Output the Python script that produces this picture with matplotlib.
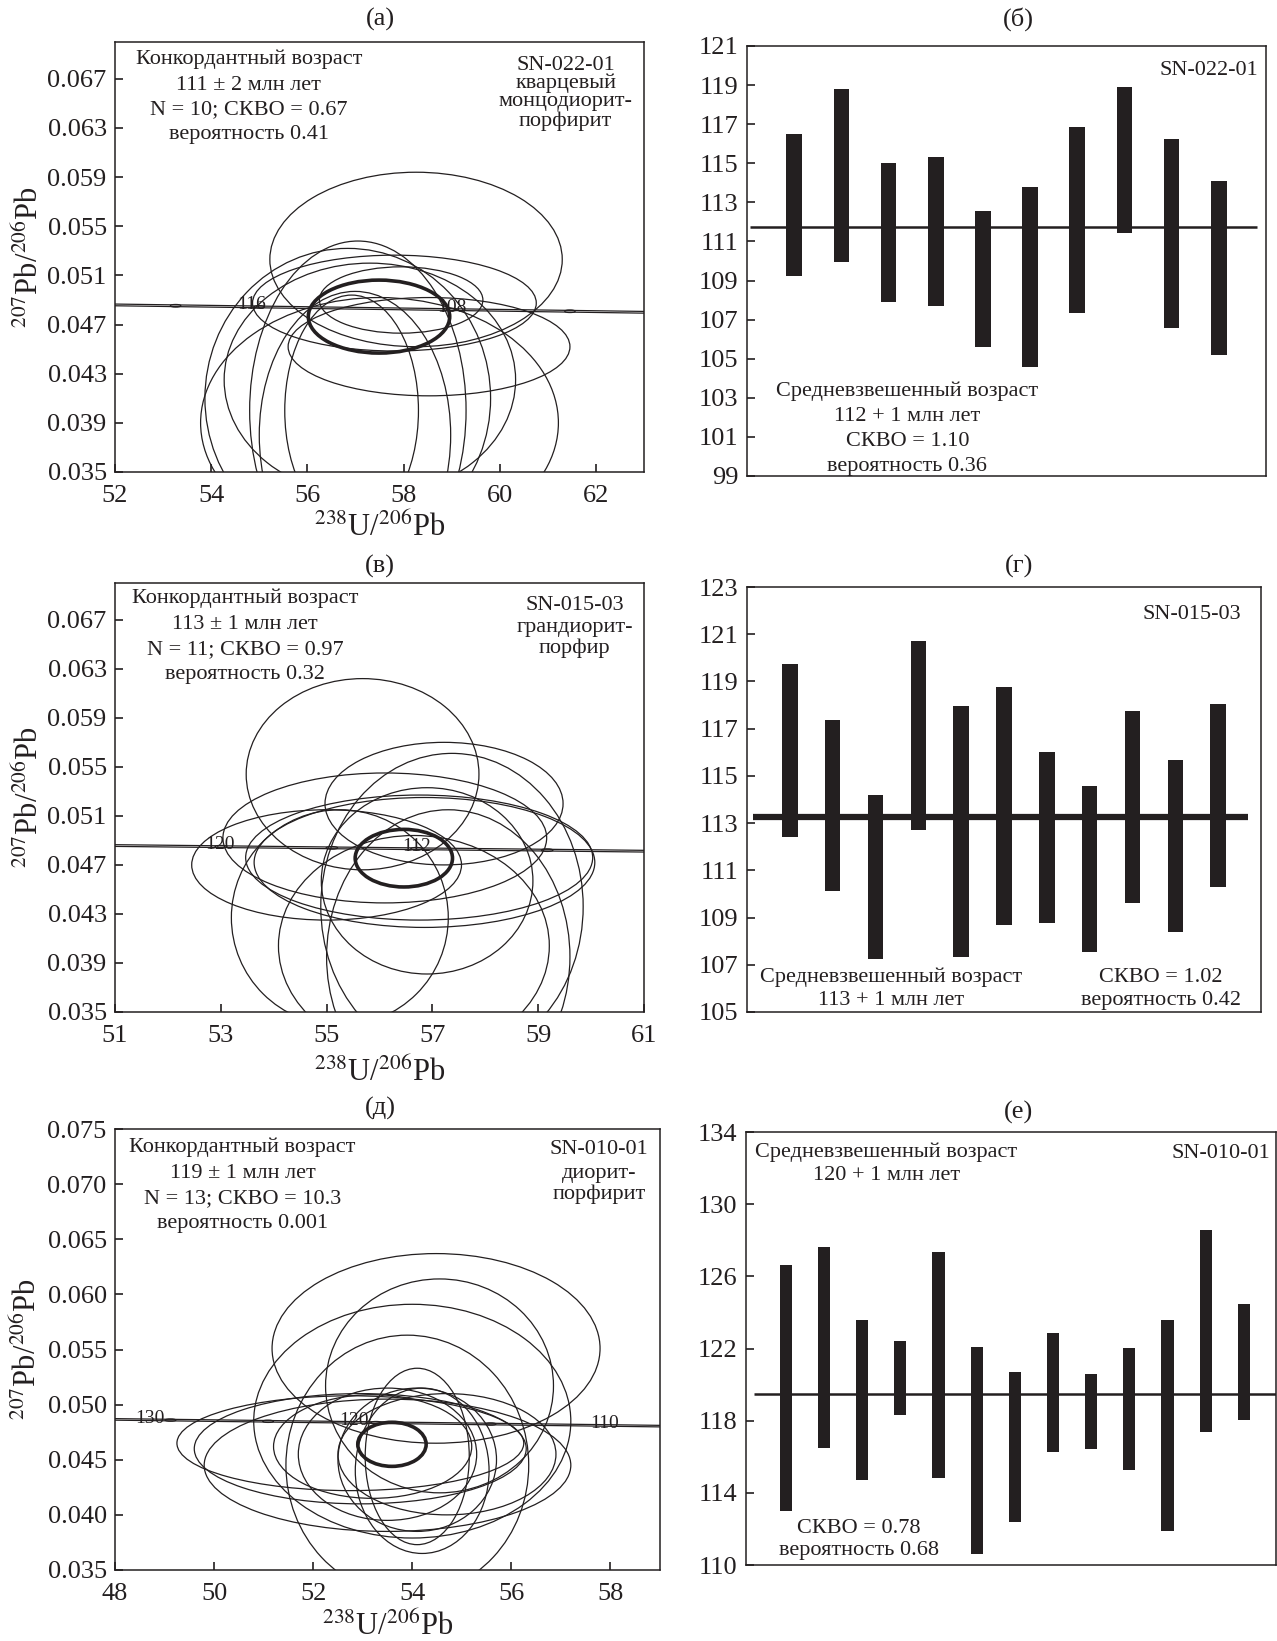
import matplotlib
matplotlib.use("Agg")
import numpy as np
import matplotlib.pyplot as plt
from matplotlib.patches import Ellipse

plt.rcParams["font.family"] = ["Liberation Serif", "DejaVu Serif"]
plt.rcParams["mathtext.fontset"] = "stix"

INK = "#231f20"

# ---------------- (а) SN-022-01, concordia ----------------
A_XLIM = (52, 63)
A_YLIM = (0.035, 0.070)
A_XTICKS = [52, 54, 56, 58, 60, 62]
A_YTICKS = [0.035, 0.039, 0.043, 0.047, 0.051, 0.055, 0.059, 0.063, 0.067]
A_ELL_X = [58.26, 57.81, 58.53, 57.95, 57.50, 56.84, 57.05, 56.99, 56.92, 57.30]
A_ELL_Y = [0.0523, 0.04875, 0.0452, 0.0490, 0.0390, 0.0410, 0.0400, 0.0380, 0.0400, 0.0425]
A_ELL_A = [3.04, 2.95, 2.93, 1.70, 3.72, 2.97, 2.25, 1.99, 1.39, 3.03]
A_ELL_B = [0.0071, 0.0039, 0.0040, 0.0027, 0.0102, 0.0122, 0.0138, 0.0117, 0.0094, 0.0095]
A_AGE = (57.49, 0.04765, 1.47, 0.00297)
A_CONC_X = [52, 63]
A_CONC_Y = [0.04860, 0.04800]
A_MARK_X = [53.26, 55.0, 59.0, 61.46]
A_AGE_LABELS = ["116", "108"]
A_AGE_LABEL_X = [54.84, 59.0]
A_LEFT_TEXT = ["Конкордантный возраст", "111 ± 2 млн лет",
               "N = 10; СКВО = 0.67", "вероятность 0.41"]
A_RIGHT_TEXT = ["SN-022-01", "кварцевый", "монцодиорит-", "порфирит"]

# ---------------- (в) SN-015-03, concordia ----------------
V_XLIM = (51, 61)
V_YLIM = (0.035, 0.070)
V_XTICKS = [51, 53, 55, 57, 59, 61]
V_YTICKS = A_YTICKS
V_ELL_X = [55.68, 57.22, 55.00, 56.10, 56.75, 56.85, 55.25, 56.65, 57.37, 56.90, 57.30]
V_ELL_Y = [0.0544, 0.0520, 0.0470, 0.0492, 0.0476, 0.0472, 0.0427, 0.0404, 0.0436, 0.0457, 0.0395]
V_ELL_A = [2.20, 2.25, 2.55, 3.06, 3.28, 3.22, 2.05, 2.56, 2.48, 2.00, 2.30]
V_ELL_B = [0.0078, 0.0050, 0.0045, 0.0053, 0.0051, 0.0053, 0.0088, 0.0090, 0.0125, 0.0076, 0.0120]
V_AGE = (56.46, 0.04755, 0.92, 0.00235)
V_CONC_X = [51, 61]
V_CONC_Y = [0.04858, 0.04812]
V_MARK_X = [53.0, 55.1, 56.7, 59.17]
V_AGE_LABELS = ["120", "112"]
V_AGE_LABEL_X = [52.98, 56.7]
V_LEFT_TEXT = ["Конкордантный возраст", "113 ± 1 млн лет",
               "N = 11; СКВО = 0.97", "вероятность 0.32"]
V_RIGHT_TEXT = ["SN-015-03", "грандиорит-", "порфир"]

# ---------------- (д) SN-010-01, concordia ----------------
D_XLIM = (48, 59)
D_YLIM = (0.035, 0.075)
D_XTICKS = [48, 50, 52, 54, 56, 58]
D_YTICKS = [0.035, 0.040, 0.045, 0.050, 0.055, 0.060, 0.065, 0.070, 0.075]
D_ELL_X = [54.48, 54.55, 54.00, 52.75, 52.95, 53.50, 53.90, 54.10, 54.10, 53.50, 54.70, 53.20, 54.20]
D_ELL_Y = [0.0551, 0.0517, 0.0485, 0.0465, 0.0460, 0.0445, 0.0445, 0.0453, 0.0450, 0.0455, 0.0455, 0.0462, 0.0440]
D_ELL_A = [3.31, 2.30, 3.20, 3.50, 3.35, 3.70, 2.45, 1.05, 1.60, 1.80, 2.20, 2.00, 1.35]
D_ELL_B = [0.0086, 0.0097, 0.0106, 0.0043, 0.0050, 0.0060, 0.0118, 0.0080, 0.0065, 0.0060, 0.0055, 0.0047, 0.0075]
D_AGE = (53.59, 0.0464, 0.69, 0.0020)
D_CONC_X = [48, 59]
D_CONC_Y = [0.04866, 0.04805]
D_MARK_X = [49.12, 51.09, 53.27, 55.58]
D_AGE_LABELS = ["130", "120", "110"]
D_AGE_LABEL_X = [48.7, 52.83, 57.88]
D_LEFT_TEXT = ["Конкордантный возраст", "119 ± 1 млн лет",
               "N = 13; СКВО = 10.3", "вероятность 0.001"]
D_RIGHT_TEXT = ["SN-010-01", "диорит-", "порфирит"]

# ---------------- (б) weighted mean SN-022-01 ----------------
B_TOP = [116.52, 118.80, 115.00, 115.34, 112.56, 113.79, 116.86, 118.90, 116.23, 114.10]
B_BOT = [109.22, 109.96, 107.89, 107.68, 105.60, 104.56, 107.34, 111.44, 106.57, 105.20]
B_MEAN = 111.74
B_SPAN = (0.06, 10.8)
B_YLIM = (99, 121)
B_YTICKS = list(range(99, 122, 2))

# ---------------- (г) weighted mean SN-015-03 ----------------
G_TOP = [119.73, 117.38, 114.18, 120.70, 117.98, 118.76, 116.03, 114.56, 117.74, 115.67, 118.06]
G_BOT = [112.41, 110.12, 107.23, 112.70, 107.35, 108.67, 108.79, 107.53, 109.60, 108.40, 110.28]
G_MEAN = 113.27
G_SPAN = (0.13, 11.7)
G_YLIM = (105, 123)
G_YTICKS = list(range(105, 124, 2))

# ---------------- (е) weighted mean SN-010-01 ----------------
E_TOP = [126.61, 127.63, 123.56, 122.39, 127.36, 122.10, 120.72, 122.87, 120.56, 122.02, 123.60, 128.57, 124.44]
E_BOT = [112.98, 116.48, 114.69, 118.30, 114.83, 110.62, 112.41, 116.25, 116.44, 115.25, 111.91, 117.38, 118.03]
E_MEAN = 119.47
E_SPAN = (0.18, 13.85)
E_YLIM = (110, 134)
E_YTICKS = [110, 114, 118, 122, 126, 130, 134]

TICK_FS = 19
NOTE_FS = 16

W, H = 1277, 1641


def rect(x0, x1, y0, y1):
    return [x0 / W, 1 - y1 / H, (x1 - x0) / W, (y1 - y0) / H]


def style_axes(ax):
    for s in ax.spines.values():
        s.set_linewidth(1.1)
        s.set_color(INK)
    ax.tick_params(direction="in", length=6, width=1.2, labelsize=TICK_FS,
                   colors=INK, pad=6, top=False, right=False)
    ax.tick_params(axis="x", pad=9)


def note(ax, x, y, t, ha="center"):
    ax.text(x, y, t, transform=ax.transAxes, ha=ha, va="center",
            fontsize=NOTE_FS, color=INK)


def concordia_panel(ax, xlim, ylim, xticks, yticks, ex, ey, ea, eb, age,
                    cx, cy, marks, lab, lab_x, left_text, left_pos, right_text, right_pos,
                    xlab_y):
    style_axes(ax)
    for x, y, a, b in zip(ex, ey, ea, eb):
        ax.add_patch(Ellipse((x, y), 2 * a, 2 * b, fill=False, lw=0.9, ec=INK))
    # concordia band
    off = 0.00007
    ax.plot(cx, [v + off for v in cy], color=INK, lw=0.9)
    ax.plot(cx, [v - off for v in cy], color=INK, lw=0.9)
    for m in marks:
        ax.add_patch(Ellipse((m, np.interp(m, cx, cy)), 0.22, 0.00022,
                             fill=False, lw=0.8, ec=INK))
    for t, x in zip(lab, lab_x):
        ax.text(x, np.interp(x, cx, cy) + 0.00015, t, fontsize=14,
                ha="center", va="center", color=INK)
    ax.add_patch(Ellipse((age[0], age[1]), 2 * age[2], 2 * age[3],
                         fill=False, lw=2.6, ec=INK))
    ax.set_xlim(*xlim)
    ax.set_ylim(*ylim)
    ax.set_xticks(xticks)
    ax.set_yticks(yticks)
    ax.set_yticklabels([f"{v:.3f}" for v in yticks])
    ax.set_xlabel(r"$^{238}$U/$^{206}$Pb", fontsize=22, color=INK)
    ax.set_ylabel(r"$^{207}$Pb/$^{206}$Pb", fontsize=22, color=INK)
    ax.yaxis.set_label_coords(-0.132, 0.5)
    ax.xaxis.set_label_coords(0.5, xlab_y)
    lx, ly = left_pos
    for t, y in zip(left_text, ly):
        note(ax, lx, y, t)
    rx, ry = right_pos
    for t, y in zip(right_text, ry):
        note(ax, rx, y, t)


def bar_panel(ax, top, bot, mean, span, xlim, ylim, yticks, lw, width):
    style_axes(ax)
    x = np.arange(1, len(top) + 1)
    ax.bar(x, np.array(top) - np.array(bot), bottom=bot, width=width, color=INK)
    ax.plot(span, [mean, mean], color=INK, lw=lw, solid_capstyle="butt")
    ax.set_xlim(*xlim)
    ax.set_ylim(*ylim)
    ax.set_yticks(yticks)
    ax.set_xticks([])


fig = plt.figure(figsize=(W / 100, H / 100), dpi=100)

ax_a = fig.add_axes(rect(115, 644, 42, 472))
ax_b = fig.add_axes(rect(747, 1266, 46, 476))
ax_v = fig.add_axes(rect(115, 644, 583, 1012))
ax_g = fig.add_axes(rect(747, 1261, 587, 1012))
ax_d = fig.add_axes(rect(115, 660, 1129, 1570))
ax_e = fig.add_axes(rect(746, 1276, 1132, 1565))

concordia_panel(ax_a, A_XLIM, A_YLIM, A_XTICKS, A_YTICKS, A_ELL_X, A_ELL_Y, A_ELL_A, A_ELL_B,
                A_AGE, A_CONC_X, A_CONC_Y, A_MARK_X, A_AGE_LABELS, A_AGE_LABEL_X,
                A_LEFT_TEXT, (0.253, [0.96, 0.90, 0.842, 0.784]),
                A_RIGHT_TEXT, (0.852, [0.946, 0.904, 0.861, 0.815]), -0.092)
concordia_panel(ax_v, V_XLIM, V_YLIM, V_XTICKS, V_YTICKS, V_ELL_X, V_ELL_Y, V_ELL_A, V_ELL_B,
                V_AGE, V_CONC_X, V_CONC_Y, V_MARK_X, V_AGE_LABELS, V_AGE_LABEL_X,
                V_LEFT_TEXT, (0.246, [0.964, 0.904, 0.844, 0.786]),
                V_RIGHT_TEXT, (0.869, [0.948, 0.896, 0.848]), -0.104)
concordia_panel(ax_d, D_XLIM, D_YLIM, D_XTICKS, D_YTICKS, D_ELL_X, D_ELL_Y, D_ELL_A, D_ELL_B,
                D_AGE, D_CONC_X, D_CONC_Y, D_MARK_X, D_AGE_LABELS, D_AGE_LABEL_X,
                D_LEFT_TEXT, (0.234, [0.958, 0.899, 0.843, 0.786]),
                D_RIGHT_TEXT, (0.888, [0.954, 0.899, 0.851]), -0.092)

bar_panel(ax_b, B_TOP, B_BOT, B_MEAN, B_SPAN, (0, 11), B_YLIM, B_YTICKS, 1.8, 0.33)
note(ax_b, 0.309, 0.198, "Средневзвешенный возраст")
note(ax_b, 0.309, 0.138, "112 + 1 млн лет")
note(ax_b, 0.309, 0.080, "СКВО = 1.10")
note(ax_b, 0.309, 0.023, "вероятность 0.36")
note(ax_b, 0.985, 0.943, "SN-022-01", ha="right")

bar_panel(ax_g, G_TOP, G_BOT, G_MEAN, G_SPAN, (0, 12), G_YLIM, G_YTICKS, 4.5, 0.36)
note(ax_g, 0.281, 0.082, "Средневзвешенный возраст")
note(ax_g, 0.281, 0.026, "113 + 1 млн лет")
note(ax_g, 0.805, 0.082, "СКВО = 1.02")
note(ax_g, 0.805, 0.026, "вероятность 0.42")
note(ax_g, 0.962, 0.935, "SN-015-03", ha="right")

bar_panel(ax_e, E_TOP, E_BOT, E_MEAN, E_SPAN, (-0.04, 13.84), E_YLIM, E_YTICKS, 1.8, 0.32)
note(ax_e, 0.265, 0.954, "Средневзвешенный возраст")
note(ax_e, 0.265, 0.900, "120 + 1 млн лет")
note(ax_e, 0.99, 0.95, "SN-010-01", ha="right")
note(ax_e, 0.213, 0.084, "СКВО = 0.78")
note(ax_e, 0.213, 0.033, "вероятность 0.68")

# panel letters
for t, x, y in [("(а)", 380, 19), ("(б)", 1018, 19), ("(в)", 380, 566),
                ("(г)", 1019, 566), ("(д)", 380, 1108), ("(е)", 1019, 1112)]:
    fig.text(x / W, 1 - y / H, t, ha="center", va="center", fontsize=19, color=INK)

fig.savefig("out.png", dpi=100, facecolor="white")
